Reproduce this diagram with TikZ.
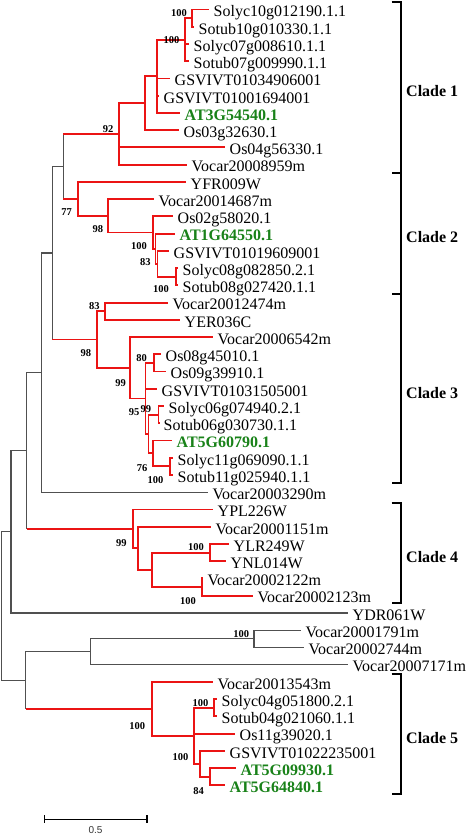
\documentclass[tikz,border=0pt]{standalone}
\usepackage{fontspec}
\setmainfont{Liberation Serif}
\newfontfamily\barfont{Liberation Sans}
\definecolor{treered}{RGB}{235,20,20}
\definecolor{treegray}{RGB}{80,80,80}
\definecolor{atgreen}{RGB}{25,130,25}
\newcommand\redge[2]{\draw[rl] (#1) |- (#2);}
\newcommand\gedge[2]{\draw[gl] (#1) |- (#2);}
\newcommand\medge[2]{\draw[gl,line cap=rect] (#1) -- (#1 |- #2); \draw[rl] (#1 |- #2) -- (#2);}
\begin{document}
\begin{tikzpicture}[x=1pt,y=-1pt,
  rl/.style={draw=treered,line width=1.9pt},
  gl/.style={draw=treegray,line width=1.2pt},
  leaf/.style={anchor=base west,inner sep=0pt,font=\fontsize{16}{16}\selectfont,xshift=4.5pt,yshift=-7.3pt},
  gleaf/.style={leaf,text=atgreen,font=\bfseries\fontsize{16}{16}\selectfont},
  bs/.style={inner sep=0pt,font=\bfseries\fontsize{10.5}{10.5}\selectfont},
  clade/.style={anchor=base west,inner sep=0pt,font=\bfseries\fontsize{16}{16}\selectfont},
  brk/.style={draw=black,line width=2pt},
]
\useasboundingbox (0,0) rectangle (472,835);
% leaf tips
\coordinate (t1) at (209,9.5);
\coordinate (t2) at (194,26.74);
\coordinate (t3) at (189,43.98);
\coordinate (t4) at (189,61.22);
\coordinate (t5) at (170,78.46);
\coordinate (t6) at (159,95.7);
\coordinate (t7) at (180,112.94);
\coordinate (t8) at (179,130.18);
\coordinate (t9) at (225,147.42);
\coordinate (t10) at (187,164.66);
\coordinate (t11) at (186,181.9);
\coordinate (t12) at (154,199.14);
\coordinate (t13) at (173,216.38);
\coordinate (t14) at (175,233.62);
\coordinate (t15) at (169,250.86);
\coordinate (t16) at (178,268.1);
\coordinate (t17) at (178,285.34);
\coordinate (t18) at (168,302.58);
\coordinate (t19) at (180,319.82);
\coordinate (t20) at (213,337.06);
\coordinate (t21) at (161,354.3);
\coordinate (t22) at (166,371.54);
\coordinate (t23) at (157,388.78);
\coordinate (t24) at (164,406.02);
\coordinate (t25) at (159,423.26);
\coordinate (t26) at (172,440.5);
\coordinate (t27) at (173,457.74);
\coordinate (t28) at (173,474.98);
\coordinate (t29) at (208,492.22);
\coordinate (t30) at (213,509.46);
\coordinate (t31) at (211,526.7);
\coordinate (t32) at (229,543.94);
\coordinate (t33) at (226,561.18);
\coordinate (t34) at (203,578.42);
\coordinate (t35) at (253,595.66);
\coordinate (t36) at (348,612.9);
\coordinate (t37) at (301,630.14);
\coordinate (t38) at (304,647.38);
\coordinate (t39) at (348,664.62);
\coordinate (t40) at (213,681.86);
\coordinate (t41) at (217,699.1);
\coordinate (t42) at (217,716.34);
\coordinate (t43) at (235,733.58);
\coordinate (t44) at (225,750.82);
\coordinate (t45) at (236,768.06);
\coordinate (t46) at (225,785.3);
% internal nodes
\coordinate (pA) at (192,18.12);
\coordinate (N1b) at (185,39.67);
\coordinate (N1c) at (157,76.3);
\coordinate (N1d) at (145,103.24);
\coordinate (N1e) at (119,133.95);
\coordinate (pC) at (176,276.72);
\coordinate (N2a) at (157.5,263.79);
\coordinate (N2b) at (155.5,248.7);
\coordinate (N2c) at (153,232.54);
\coordinate (N2d) at (108,215.84);
\coordinate (N2e) at (78,198.87);
\coordinate (G1) at (63.3,166.41);
\coordinate (N3a) at (105,311.2);
\coordinate (pD) at (154,362.92);
\coordinate (pE) at (158.5,414.64);
\coordinate (pF) at (170,466.36);
\coordinate (N3p) at (153.3,453.43);
\coordinate (N3w) at (148.5,434.04);
\coordinate (N3z) at (145.5,398.48);
\coordinate (N3b) at (130,367.77);
\coordinate (N3c) at (97,339.49);
\coordinate (G2) at (52.3,252.95);
\coordinate (G3) at (41.7,372.59);
\coordinate (pG) at (210,552.56);
\coordinate (pH) at (202,587.04);
\coordinate (N4b) at (152,569.8);
\coordinate (N4c) at (138,548.25);
\coordinate (N4d) at (133,528.86);
\coordinate (G4) at (26.7,450.72);
\coordinate (G5) at (11,531.81);
\coordinate (pI) at (254,638.76);
\coordinate (G7) at (90.7,651.69);
\coordinate (pJ) at (214,707.72);
\coordinate (pK) at (210,776.68);
\coordinate (N5b) at (200,763.75);
\coordinate (N5c) at (194.3,735.74);
\coordinate (N5d) at (151.7,708.8);
\coordinate (G6) at (25.7,680.25);
\coordinate (R) at (1.7,606.03);
% gray backbone
\gedge{R}{G5} \gedge{R}{G6}
\gedge{G5}{G4} \gedge{G5}{t36}
\gedge{G4}{G3}
\gedge{G3}{G2} \gedge{G3}{t29}
\gedge{G2}{G1}
\gedge{G6}{G7}
\gedge{G7}{pI} \gedge{G7}{t39}
\gedge{pI}{t37} \gedge{pI}{t38}
% mixed stems
\medge{G1}{N1e} \medge{G1}{N2e} \medge{G2}{N3c} \medge{G4}{N4d} \medge{G6}{N5d}
% clade 1
\redge{pA}{t1} \redge{pA}{t2}
\redge{N1b}{pA} \redge{N1b}{t3} \redge{N1b}{t4}
\redge{N1c}{N1b} \redge{N1c}{t5} \redge{N1c}{t6} \redge{N1c}{t7}
\redge{N1d}{N1c} \redge{N1d}{t8}
\redge{N1e}{N1d} \redge{N1e}{t9} \redge{N1e}{t10}
% clade 2
\redge{N2e}{t11} \redge{N2e}{N2d}
\redge{N2d}{t12} \redge{N2d}{N2c}
\redge{N2c}{t13} \redge{N2c}{N2b}
\redge{N2b}{t14} \redge{N2b}{N2a}
\redge{N2a}{t15} \redge{N2a}{pC}
\redge{pC}{t16} \redge{pC}{t17}
% clade 3
\redge{N3c}{N3a} \redge{N3c}{N3b}
\redge{N3a}{t18} \redge{N3a}{t19}
\redge{N3b}{t20} \redge{N3b}{N3z}
\redge{N3z}{pD} \redge{N3z}{t23} \redge{N3z}{N3w}
\redge{pD}{t21} \redge{pD}{t22}
\redge{N3w}{pE} \redge{N3w}{N3p}
\redge{pE}{t24} \redge{pE}{t25}
\redge{N3p}{t26} \redge{N3p}{pF}
\redge{pF}{t27} \redge{pF}{t28}
% clade 4
\redge{N4d}{t30} \redge{N4d}{N4c}
\redge{N4c}{t31} \redge{N4c}{N4b}
\redge{N4b}{pG} \redge{N4b}{pH}
\redge{pG}{t32} \redge{pG}{t33}
\redge{pH}{t34} \redge{pH}{t35}
% clade 5
\redge{N5d}{t40} \redge{N5d}{N5c}
\redge{N5c}{pJ} \redge{N5c}{t43} \redge{N5c}{N5b}
\redge{pJ}{t41} \redge{pJ}{t42}
\redge{N5b}{t44} \redge{N5b}{pK}
\redge{pK}{t45} \redge{pK}{t46}
% leaf labels
\node[leaf] (l1) at (t1) {Solyc10g012190.1.1};
\node[leaf] (l2) at (t2) {Sotub10g010330.1.1};
\node[leaf] (l3) at (t3) {Solyc07g008610.1.1};
\node[leaf] (l4) at (t4) {Sotub07g009990.1.1};
\node[leaf] (l5) at (t5) {GSVIVT01034906001};
\node[leaf] (l6) at (t6) {GSVIVT01001694001};
\node[gleaf] (l7) at (t7) {AT3G54540.1};
\node[leaf] (l8) at (t8) {Os03g32630.1};
\node[leaf] (l9) at (t9) {Os04g56330.1};
\node[leaf] (l10) at (t10) {Vocar20008959m};
\node[leaf] (l11) at (t11) {YFR009W};
\node[leaf] (l12) at (t12) {Vocar20014687m};
\node[leaf] (l13) at (t13) {Os02g58020.1};
\node[gleaf] (l14) at (t14) {AT1G64550.1};
\node[leaf] (l15) at (t15) {GSVIVT01019609001};
\node[leaf] (l16) at (t16) {Solyc08g082850.2.1};
\node[leaf] (l17) at (t17) {Sotub08g027420.1.1};
\node[leaf] (l18) at (t18) {Vocar20012474m};
\node[leaf] (l19) at (t19) {YER036C};
\node[leaf] (l20) at (t20) {Vocar20006542m};
\node[leaf] (l21) at (t21) {Os08g45010.1};
\node[leaf] (l22) at (t22) {Os09g39910.1};
\node[leaf] (l23) at (t23) {GSVIVT01031505001};
\node[leaf] (l24) at (t24) {Solyc06g074940.2.1};
\node[leaf] (l25) at (t25) {Sotub06g030730.1.1};
\node[gleaf] (l26) at (t26) {AT5G60790.1};
\node[leaf] (l27) at (t27) {Solyc11g069090.1.1};
\node[leaf] (l28) at (t28) {Sotub11g025940.1.1};
\node[leaf] (l29) at (t29) {Vocar20003290m};
\node[leaf] (l30) at (t30) {YPL226W};
\node[leaf] (l31) at (t31) {Vocar20001151m};
\node[leaf] (l32) at (t32) {YLR249W};
\node[leaf] (l33) at (t33) {YNL014W};
\node[leaf] (l34) at (t34) {Vocar20002122m};
\node[leaf] (l35) at (t35) {Vocar20002123m};
\node[leaf] (l36) at (t36) {YDR061W};
\node[leaf] (l37) at (t37) {Vocar20001791m};
\node[leaf] (l38) at (t38) {Vocar20002744m};
\node[leaf] (l39) at (t39) {Vocar20007171m};
\node[leaf] (l40) at (t40) {Vocar20013543m};
\node[leaf] (l41) at (t41) {Solyc04g051800.2.1};
\node[leaf] (l42) at (t42) {Sotub04g021060.1.1};
\node[leaf] (l43) at (t43) {Os11g39020.1};
\node[leaf] (l44) at (t44) {GSVIVT01022235001};
\node[gleaf] (l45) at (t45) {AT5G09930.1};
\node[gleaf] (l46) at (t46) {AT5G64840.1};
% bootstrap values
\node[bs] (b1) at (179,12.7) {100};
\node[bs] (b2) at (171.5,40) {100};
\node[bs] (b3) at (108,129) {92};
\node[bs] (b4) at (66.7,211.7) {77};
\node[bs] (b5) at (97.8,229) {98};
\node[bs] (b6) at (139,245.7) {100};
\node[bs] (b7) at (145.3,262.3) {83};
\node[bs] (b8) at (161,289.3) {100};
\node[bs] (b9) at (94.3,305.7) {83};
\node[bs] (b10) at (85.8,353.3) {98};
\node[bs] (b11) at (120.5,382.7) {99};
\node[bs] (b12) at (141.7,358.3) {80};
\node[bs] (b13) at (134.2,411.7) {95};
\node[bs] (b14) at (145.8,409.3) {99};
\node[bs] (b15) at (142.2,467.7) {76};
\node[bs] (b16) at (155.5,480) {100};
\node[bs] (b17) at (121.3,542.7) {99};
\node[bs] (b18) at (196,547.3) {100};
\node[bs] (b19) at (188,600.7) {100};
\node[bs] (b20) at (241.2,634) {100};
\node[bs] (b21) at (137.2,726) {100};
\node[bs] (b22) at (200.5,702.7) {100};
\node[bs] (b23) at (180.5,756.7) {100};
\node[bs] (b24) at (198.7,790.7) {84};
% clade brackets
\draw[brk] (391.5,2) -- (400.5,2) -- (400.5,173.3) -- (391.5,173.3);
\draw[brk] (400.5,173.3) -- (400.5,294) -- (391.5,294);
\draw[brk] (400.5,294) -- (400.5,482.7) -- (391.5,482.7);
\draw[brk] (391.5,502.7) -- (400.5,502.7) -- (400.5,602.7) -- (391.5,602.7);
\draw[brk] (391.5,674) -- (400.5,674) -- (400.5,794.3) -- (391.5,794.3);
\node[clade] (c1) at (406,96.5) {Clade 1};
\node[clade] (c2) at (406,242.7) {Clade 2};
\node[clade] (c3) at (406,398.3) {Clade 3};
\node[clade] (c4) at (406,562.3) {Clade 4};
\node[clade] (c5) at (406,743.3) {Clade 5};
% scale bar
\coordinate (sb1) at (44.3,819.3);
\coordinate (sb2) at (146.7,819.3);
\draw[line width=1.6pt] (sb1) -- (sb2);
\draw[line width=1.6pt] ([yshift=4pt]sb1) -- ([yshift=-4pt]sb1);
\draw[line width=1.6pt] ([yshift=4pt]sb2) -- ([yshift=-4pt]sb2);
\node[inner sep=0pt,font=\barfont\fontsize{10}{10}\selectfont,text=black!80] (sbl) at (95.5,830.5) {0.5};
\end{tikzpicture}
\end{document}
